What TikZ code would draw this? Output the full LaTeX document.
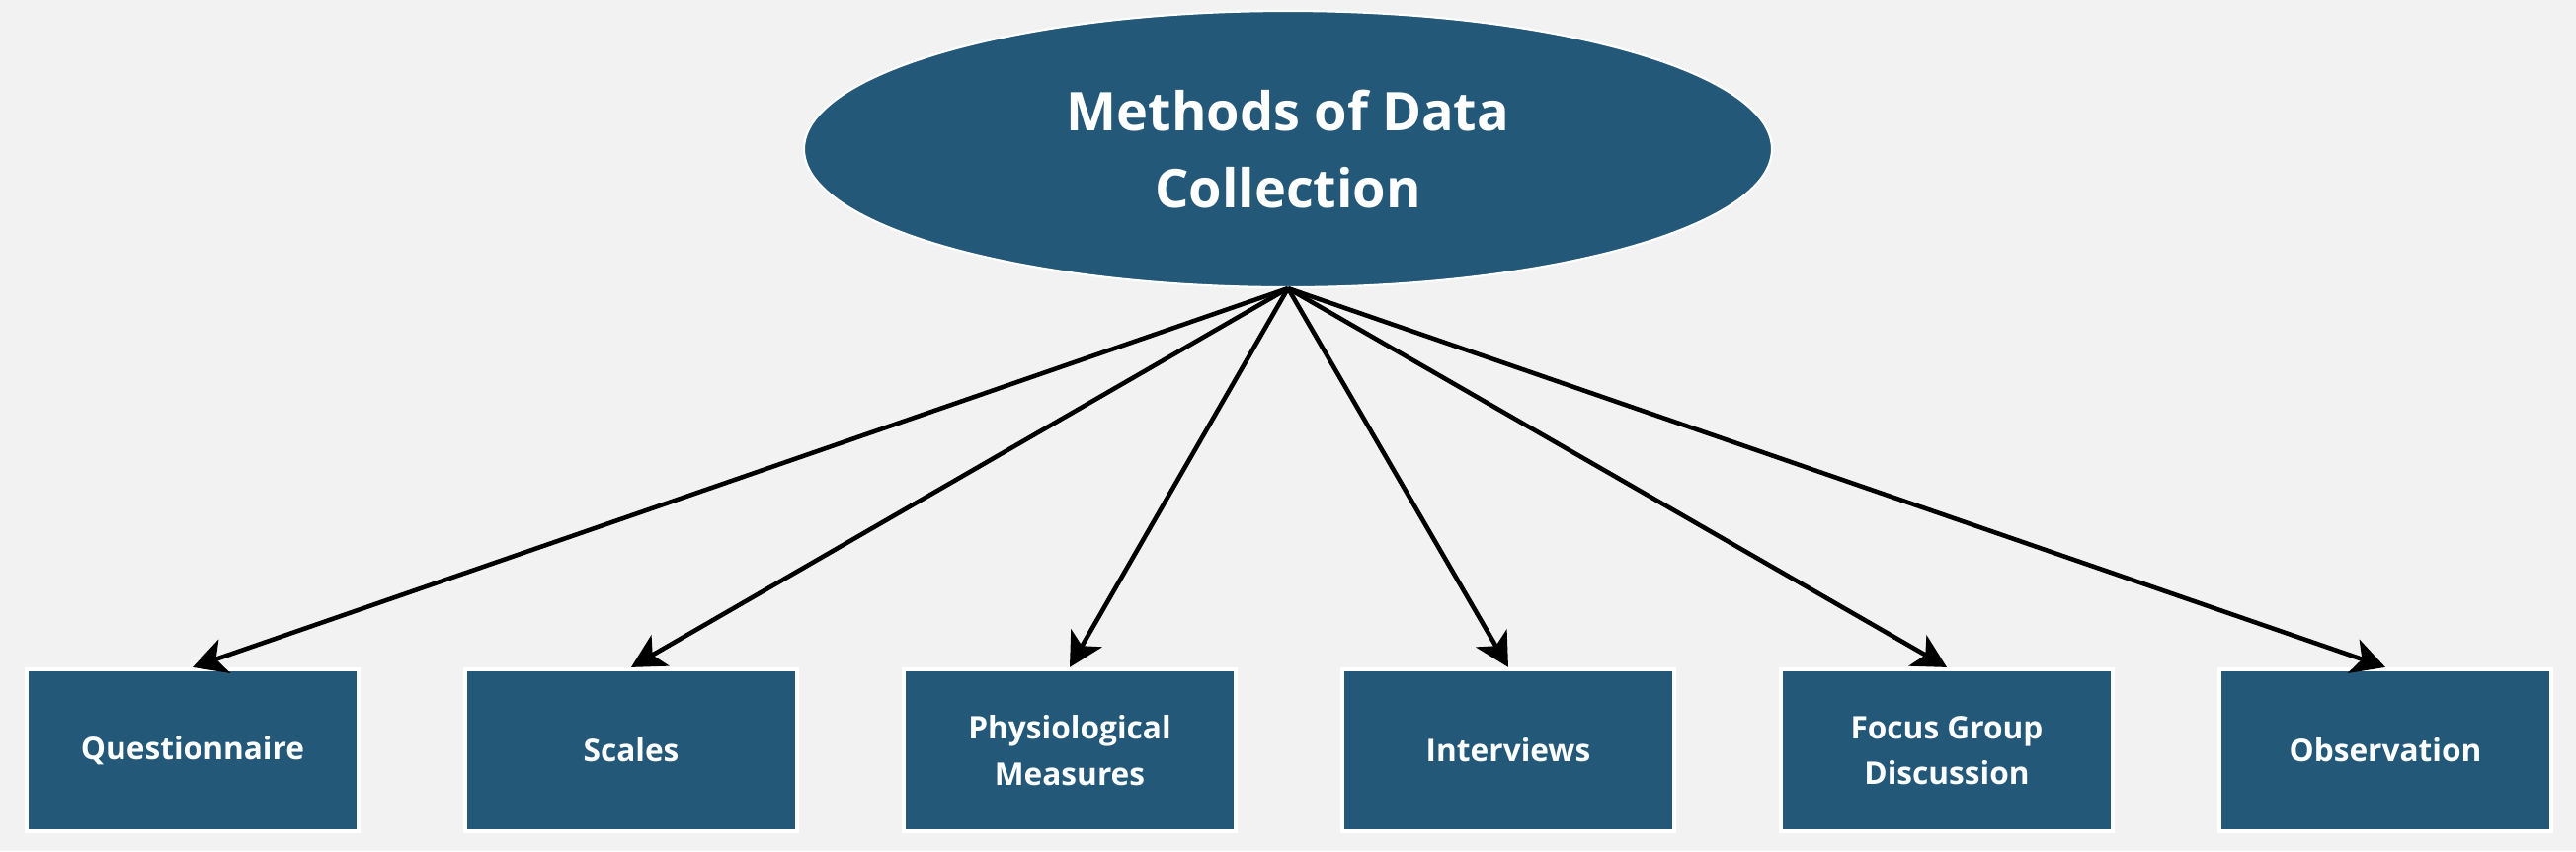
\documentclass[tikz,border=0pt]{standalone}
\usepackage{fontspec}
\setmainfont{Open Sans}
\usepackage{tikz}
\usetikzlibrary{arrows.meta,positioning,shapes}
\definecolor{methodblue}{RGB}{35,88,121}
\definecolor{pagegrey}{RGB}{242,242,242}
\tikzset{>={Stealth[length=3.4mm,width=3.6mm,inset=0.9mm]}}
\tikzset{method/.style={rectangle,fill=methodblue,draw=white,line width=1.2pt,minimum width=3.36cm,minimum height=1.64cm,text=white,align=center,font=\bfseries\fontsize{9}{13.2}\selectfont}}

\begin{document}
\begin{tikzpicture}
					\fill[pagegrey] (0,0) rectangle (26.08,-8.62);
					\useasboundingbox (0,0) rectangle (26.08,-8.62);
					%Root
					\node[ellipse,fill=methodblue,draw=white,line width=0.6pt,minimum width=9.8cm,minimum height=2.8cm,inner sep=0pt,text=white,align=center,font=\bfseries\fontsize{15.4}{22}\selectfont] (M) at (13.04,-1.51) {Methods of Data\\Collection};
					
					%Methods
					\node[method] (Q) at (1.95,-7.6) {Questionnaire};
					\node[method] (S) at (6.39,-7.6) {Scales};
					\node[method] (P) at (10.83,-7.6) {Physiological\\Measures};
					\node[method] (I) at (15.27,-7.6) {Interviews};
					\node[method] (F) at (19.71,-7.6) {Focus Group\\Discussion};
					\node[method] (O) at (24.15,-7.6) {Observation};
					
					%Arrows
					\draw[->,line width=1.3pt] (M.south)--(Q.north);
					\draw[->,line width=1.3pt] (M.south)--(S.north);
					\draw[->,line width=1.3pt] (M.south)--(P.north);
					\draw[->,line width=1.3pt] (M.south)--(I.north);
					\draw[->,line width=1.3pt] (M.south)--(F.north);
					\draw[->,line width=1.3pt] (M.south)--(O.north);
				\end{tikzpicture}
\end{document}
